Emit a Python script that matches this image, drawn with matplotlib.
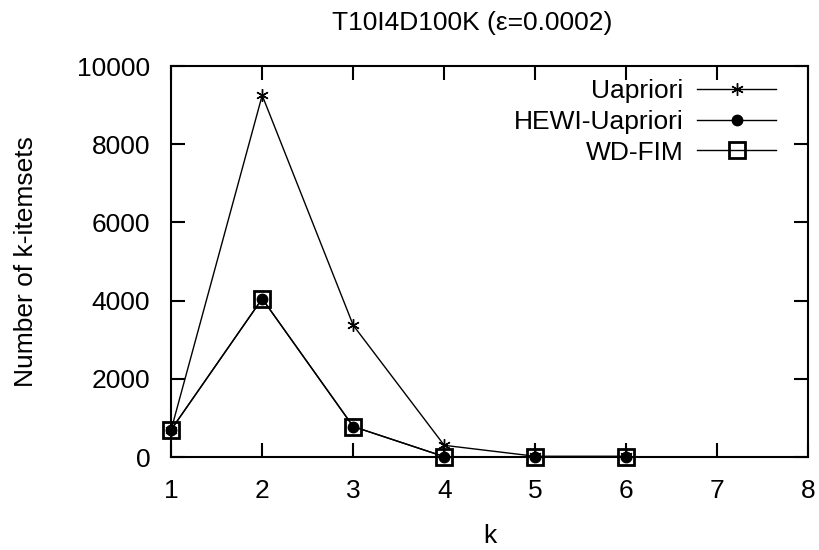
import matplotlib.pyplot as plt

plt.rcParams['font.family'] = ['Liberation Sans', 'DejaVu Sans']

k = [1, 2, 3, 4, 5, 6]
uapriori = [700, 9250, 3370, 300, 20, 20]
hewi = [700, 4050, 780, 10, 5, 0]
wdfim = [700, 4050, 780, 10, 5, 0]

fig = plt.figure(figsize=(8.19, 5.5), dpi=100)
ax = fig.add_axes([0.209, 0.169, 0.778, 0.711])

ax.plot(k, uapriori, color='black', lw=1, marker=(6, 2, 0), ms=9, mew=1, label='Uapriori', clip_on=False)
ax.plot(k, hewi, color='black', lw=1, marker='o', ms=7.5, label='HEWI-Uapriori', clip_on=False)
ax.plot(k, wdfim, color='black', lw=1, marker='s', ms=11, mfc='none', mew=2, label='WD-FIM', clip_on=False)

ax.set_xlim(1, 8)
ax.set_ylim(0, 10000)
ax.set_xticks(range(1, 9))
ax.set_yticks(range(0, 10001, 2000))
ax.tick_params(direction='in', top=True, right=True, length=10, width=1.5, labelsize=19)
ax.tick_params(axis='x', pad=16)
ax.tick_params(axis='y', pad=15)
for s in ax.spines.values():
    s.set_linewidth(1.5)

ax.set_title('T10I4D100K (\u03b5=0.0002)', fontsize=19, pad=26, x=0.4725)
ax.set_xlabel('k', fontsize=19, labelpad=15)
ax.set_ylabel('Number of k-itemsets', fontsize=19, labelpad=28)

ax.legend(loc='upper right', bbox_to_anchor=(0.95, 0.9655), frameon=False, markerfirst=False,
          fontsize=19, handlelength=3.0, labelspacing=0.25, borderaxespad=0, borderpad=0,
          handletextpad=0.53)

fig.savefig('out.png', dpi=100)
